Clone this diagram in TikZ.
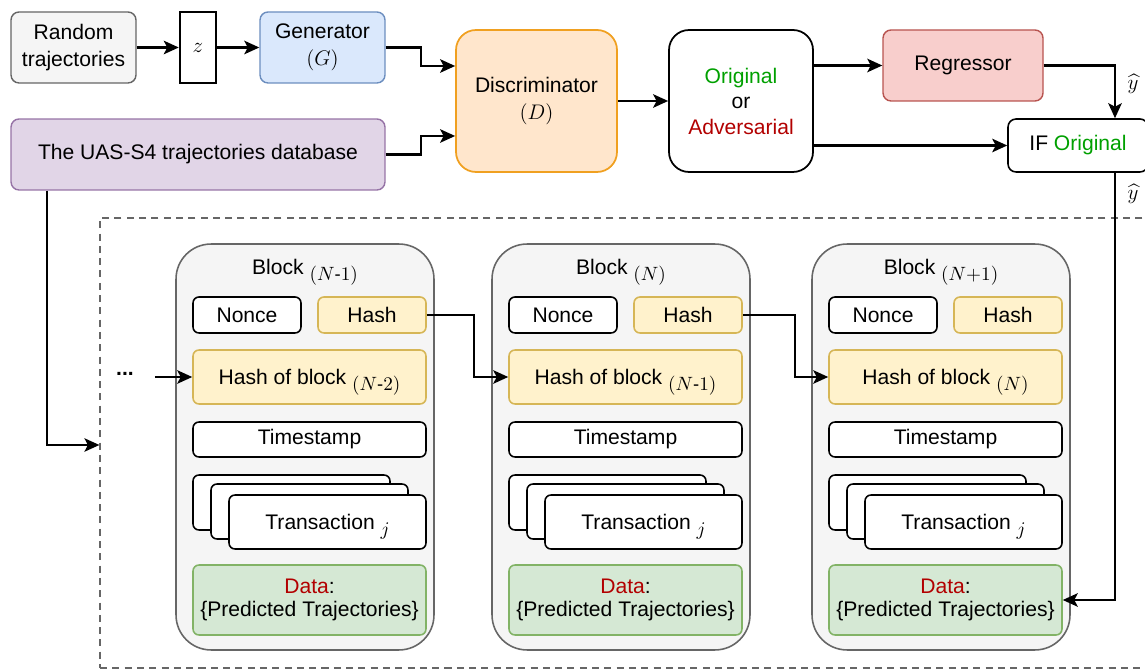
\documentclass[tikz,border=0pt]{standalone}
\usepackage[no-math]{fontspec}
\setmainfont{Liberation Sans}
\usepackage{amsmath}
\usetikzlibrary{arrows.meta}

\definecolor{grayF}{HTML}{F5F5F5}
\definecolor{grayD}{HTML}{666666}
\definecolor{blueF}{HTML}{DAE8FC}
\definecolor{blueD}{HTML}{6C8EBF}
\definecolor{purF}{HTML}{E1D5E7}
\definecolor{purD}{HTML}{9673A6}
\definecolor{orgF}{HTML}{FFE6CC}
\definecolor{orgD}{HTML}{F0A020}
\definecolor{redF}{HTML}{F8CECC}
\definecolor{redD}{HTML}{B85450}
\definecolor{yelF}{HTML}{FFF2CC}
\definecolor{yelD}{HTML}{D6B656}
\definecolor{grnF}{HTML}{D5E8D4}
\definecolor{grnD}{HTML}{82B366}
\definecolor{tgreen}{HTML}{00A000}
\definecolor{tred}{HTML}{B20000}

% lowered italic index that does not change the height of the line
\newcommand{\idx}[1]{\raisebox{-0.55ex}[0pt][0pt]{\fontsize{10.5}{12}\selectfont$#1$}}

\begin{document}
\begin{tikzpicture}[x=0.02cm,y=-0.02cm,
  font=\fontsize{12}{15.5}\selectfont,
  box/.style={draw, rounded corners=0.16cm, inner sep=0pt, align=center, line width=0.8pt},
  item/.style={draw=black, fill=white, rounded corners=0.12cm, inner sep=0pt, align=center, line width=0.9pt},
  hashbox/.style={item, fill=yelF, draw=yelD},
  blk/.style={draw=grayD, fill=grayF, rounded corners=0.7cm, line width=0.9pt, inner sep=0pt,
    minimum width=5.16cm, minimum height=8.12cm},
  arr/.style={-{Stealth[length=0.3cm,width=0.27cm,inset=0.07cm]}, line width=1.3pt}]
\useasboundingbox (0,0) rectangle (1145,671);

% ---- GAN part ----
\node[box, fill=grayF, draw=grayD, minimum width=2.5cm, minimum height=1.42cm] (rand) at (73.5,47.5) {Random\\trajectories};
\node[draw=black, line width=1.4pt, inner sep=0pt, minimum width=0.72cm, minimum height=1.42cm] (z) at (198,47.5) {$z$};
\node[box, fill=blueF, draw=blueD, minimum width=2.5cm, minimum height=1.42cm] (gen) at (322.5,47.5) {Generator\\$(G)$};
\node[box, fill=purF, draw=purD, minimum width=7.48cm, minimum height=1.42cm] (db) at (198,154.5) {The UAS-S4 trajectories database};
\node[box, rounded corners=0.4cm, fill=orgF, draw=orgD, line width=1pt, minimum width=3.22cm, minimum height=2.84cm] (disc) at (536.5,101) {Discriminator\\$(D)$};
\node[box, rounded corners=0.4cm, draw=black, line width=1pt, minimum width=2.88cm, minimum height=2.84cm,
  font=\fontsize{12}{14.5}\selectfont] (orig) at (741,101) {\textcolor{tgreen}{Original}\\or\\\textcolor{tred}{Adversarial}};
\node[box, fill=redF, draw=redD, minimum width=3.2cm, minimum height=1.42cm] (reg) at (963,65.5) {Regressor};
\node[box, draw=black, line width=0.9pt, fill=white, minimum width=2.8cm, minimum height=1.06cm] (iff) at (1078,145.5) {IF \textcolor{tgreen}{Original}};
\node[inner sep=0pt] (yh1) at (1133,84) {$\widehat{y}$};
\node[inner sep=0pt] (yh2) at (1133,194) {$\widehat{y}$};

% ---- blockchain frame ----
\node[draw=grayD, dashed, dash pattern=on 4pt off 3pt, line width=0.8pt, inner sep=0pt,
  minimum width=21.3cm, minimum height=9cm] (chain) at (632.5,443) {};

\foreach \i/\dx/\cur/\prev in {1/0/{N\text{-}1}/{N\text{-}2}, 2/316/{N}/{N\text{-}1}, 3/636/{N{+}1}/{N}} {
  \begin{scope}[xshift=\dx*0.02cm]
    \node[blk] (b\i) at (305,447) {};
    \node (t\i) at (305,267) {Block \idx{(\cur)}};
    \node[item, minimum width=2.16cm, minimum height=0.72cm] (nonce\i) at (247,315) {Nonce};
    \node[hashbox, minimum width=2.16cm, minimum height=0.72cm] (hash\i) at (372,315) {Hash};
    \node[hashbox, minimum width=4.66cm, minimum height=1.08cm] (hob\i) at (309.5,377) {Hash of block \idx{(\prev)}};
    \node[item, minimum width=4.66cm, minimum height=0.7cm] (ts\i) at (309.5,439.5) {Timestamp};
    \node[item, minimum width=3.94cm, minimum height=1.1cm] (tra\i) at (291.5,502.5) {};
    \node[item, minimum width=3.94cm, minimum height=1.1cm] (trb\i) at (309.5,511.5) {};
    \node[item, minimum width=3.94cm, minimum height=1.08cm] (tr\i) at (327.5,522) {Transaction \idx{j}};
    \node[item, fill=grnF, draw=grnD, minimum width=4.66cm, minimum height=1.4cm,
      font=\fontsize{12}{13.5}\selectfont] (data\i) at (309.5,600) {\textcolor{tred}{Data}:\\\{Predicted Trajectories\}};
  \end{scope}
}
\node (dots) at (125,374) {\textbf{...}};

% ---- connectors ----
\draw[arr] (rand) -- (z);
\draw[arr] (z) -- (gen);
\draw[arr] (gen.east) -- ++(35,0) |- ([yshift=0.7cm]disc.west);
\draw[arr] (db.east) -- ++(35,0) |- ([yshift=-0.7cm]disc.west);
\draw[arr] (disc) -- (orig);
\draw[arr] (orig.east |- reg.west) -- (reg.west);
\draw[arr] (orig.east |- iff.west) -- (iff.west);
\draw[arr] (reg.east) -| ([xshift=0.74cm]iff.north);
\draw[arr] ([xshift=0.74cm]iff.south) |- (data3.east);
\draw[arr, line width=1pt] ([xshift=-3.02cm]db.south) |- ([yshift=-0.04cm]chain.west);
\draw[arr] ([xshift=0.3cm]dots.east |- hob1.west) -- (hob1.west);
\draw[arr] (hash1.east) -- ++(47,0) |- (hob2.west);
\draw[arr] (hash2.east) -- ++(52,0) |- (hob3.west);
\end{tikzpicture}
\end{document}
